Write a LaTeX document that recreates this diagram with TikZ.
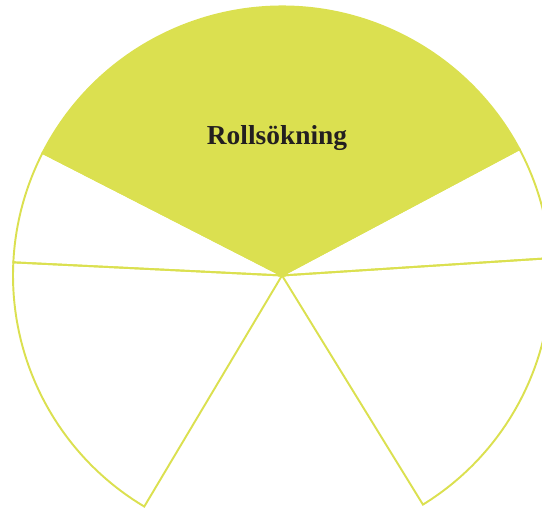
\documentclass[tikz,border=0pt]{standalone}
\usepackage{fontspec}
\setmainfont{Liberation Serif}
\usepackage{xcolor}
\definecolor{piegreen}{RGB}{219,224,80}
\definecolor{piedark}{HTML}{231F20}
\usepackage{tikz}

\begin{document}
\begin{tikzpicture}[
  x=0.02cm, y=0.02cm,
  wedge/.style={draw=piegreen, line width=1.1pt, line join=miter},
  topwedge/.style={wedge, fill=piegreen},
  title/.style={font=\fontsize{15.6pt}{18pt}\selectfont\bfseries,
    text=piedark, anchor=base}
]
  \useasboundingbox (0,0) rectangle (542,509);
  \coordinate (c) at (282,233.5);

  % top: filled
  \filldraw[topwedge] (c) -- ++(152.9:269) arc[start angle=152.9, end angle=28, radius=269] -- cycle;
  % left side
  \draw[wedge] (c) -- ++(152.9:269) arc[start angle=152.9, end angle=177.2, radius=269] -- cycle;
  \draw[wedge] (c) -- ++(177.2:269) arc[start angle=177.2, end angle=239.2, radius=269] -- cycle;
  % right side
  \draw[wedge] (c) -- ++(28:269) arc[start angle=28, end angle=3.7, radius=269] -- cycle;
  \draw[wedge] (c) -- ++(3.7:269) arc[start angle=3.7, end angle=-58.4, radius=269] -- cycle;

  \node[title] (roll) at (277,364) {Rollsökning};
\end{tikzpicture}
\end{document}
